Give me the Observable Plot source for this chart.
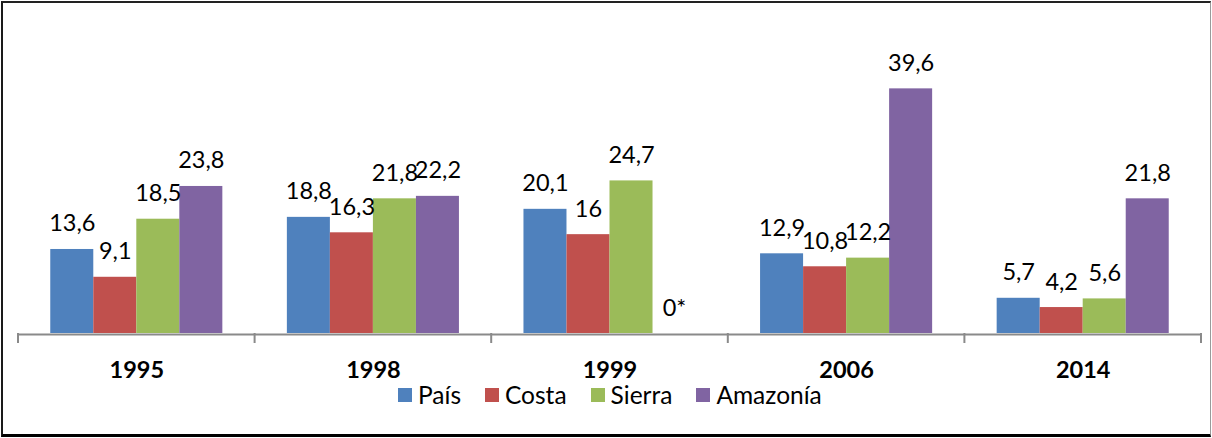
<!DOCTYPE html>
<html>
<head>
<meta charset="utf-8">
<script src="https://cdn.jsdelivr.net/npm/d3@7"></script>
<script src="https://cdn.jsdelivr.net/npm/@observablehq/plot@0.6"></script>
<style>
  html, body { margin: 0; padding: 0; background: #fff; }
  body { width: 1212px; height: 438px; position: relative; overflow: hidden; font-family: Lato, "Open Sans", sans-serif; }
  #chart { position: absolute; left: 0; top: 0; }
  #frame { position: absolute; left: 1px; top: 1px; width: 1210px; height: 436px; box-sizing: border-box;
           border-left: 2px solid #1a1a1a; border-top: 2px solid #222; border-bottom: 3px solid #000; border-right: 1px solid #9a9a9a; pointer-events: none; }
  #legend { position: absolute; left: 398px; top: 383px; display: flex; align-items: center; gap: 24px; font-size: 24.5px; line-height: 24px; color: #000; }
  .item { display: flex; align-items: center; gap: 6px; }
  .sw { width: 14px; height: 14px; display: inline-block; }
</style>
</head>
<body>
<div id="chart"></div>
<div id="legend"></div>
<div id="frame"></div>
<script>
const years = ["1995", "1998", "1999", "2006", "2014"];
const series = ["País", "Costa", "Sierra", "Amazonía"];
const colors = ["#4F81BD", "#C0504D", "#9BBB59", "#8064A2"];
const pais     = [13.6, 18.8, 20.1, 12.9, 5.7];
const costa    = [9.1, 16.3, 16, 10.8, 4.2];
const sierra   = [18.5, 21.8, 24.7, 12.2, 5.6];
const amazonia = [23.8, 22.2, 0, 39.6, 21.8];
const noteLabel = "0*";

const valuesBySeries = [pais, costa, sierra, amazonia];
const data = [];
years.forEach((yr, i) => {
  series.forEach((s, j) => {
    const v = valuesBySeries[j][i];
    data.push({year: yr, series: s, value: v,
               label: v === 0 ? noteLabel : String(v).replace(".", ",")});
  });
});

const plot = Plot.plot({
  width: 1212,
  height: 380,
  marginLeft: 18,
  marginRight: 11,
  marginTop: 55,
  marginBottom: 47,
  style: {fontFamily: "Lato, 'Open Sans', sans-serif", background: "transparent", overflow: "visible"},
  fx: {domain: years, padding: 0, label: null, round: false},
  x: {domain: series, paddingInner: 0, paddingOuter: 0.75, axis: null, round: false},
  y: {domain: [0, 45], axis: null},
  color: {domain: series, range: colors},
  marks: [
    Plot.barY(data, {fx: "year", x: "series", y: "value", fill: "series"}),
    Plot.ruleY([0], {stroke: "#8a8a8a", strokeWidth: 2, dy: 1}),
    Plot.text(data, {fx: "year", x: "series", y: "value", text: "label", lineAnchor: "bottom", dy: -18, fontSize: 23.5, fill: "#000"}),
    Plot.axisFx({anchor: "bottom", tickSize: 0, tickPadding: 28, fontSize: 23.5, fontWeight: "bold", label: null, fill: "#000"})
  ]
});
document.getElementById("chart").appendChild(plot);

// category boundary tick marks, positioned from the fx band scale
const fx = plot.scale("fx");
const yS = plot.scale("y");
const step = fx.step ?? fx.bandwidth;
const bounds = years.map(d => fx.apply(d));
bounds.push(bounds[bounds.length - 1] + step);
const y0 = yS.apply(0);
d3.select(plot).append("g")
  .selectAll("line").data(bounds).join("line")
  .attr("x1", d => d).attr("x2", d => d)
  .attr("y1", y0).attr("y2", y0 + 10)
  .attr("stroke", "#8a8a8a").attr("stroke-width", 2);

const legend = document.getElementById("legend");
series.forEach((s, i) => {
  const item = document.createElement("div");
  item.className = "item";
  const sw = document.createElement("span");
  sw.className = "sw";
  sw.style.background = colors[i];
  const t = document.createElement("span");
  t.textContent = s;
  item.appendChild(sw);
  item.appendChild(t);
  legend.appendChild(item);
});
</script>
</body>
</html>
